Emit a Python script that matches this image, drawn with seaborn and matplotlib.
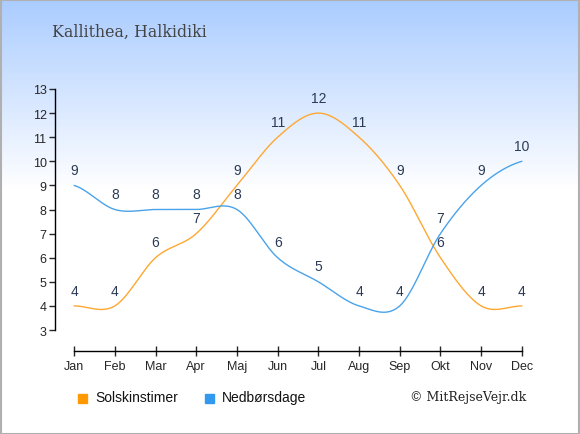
import numpy as np
import pandas as pd
import seaborn as sns
import matplotlib.pyplot as plt

# data
maaneder = ['Jan', 'Feb', 'Mar', 'Apr', 'Maj', 'Jun', 'Jul', 'Aug', 'Sep', 'Okt', 'Nov', 'Dec']
solskinstimer = [4, 4, 6, 7, 9, 11, 12, 11, 9, 6, 4, 4]
nedboersdage = [9, 8, 8, 8, 8, 6, 5, 4, 4, 7, 9, 10]

farve_sol = '#ffa733'
farve_regn = '#4aa3ea'
tekst_farve = '#2b3a55'


def glat(y, n=30):
    # catmull-rom kurve gennem punkterne
    y = np.asarray(y, dtype=float)
    p = np.concatenate([[y[0]], y, [y[-1]]])
    xs, ys = [], []
    for i in range(len(y) - 1):
        p0, p1, p2, p3 = p[i], p[i + 1], p[i + 2], p[i + 3]
        t = np.linspace(0, 1, n, endpoint=False)
        m1 = (p2 - p0) / 2
        m2 = (p3 - p1) / 2
        h = (2 * t**3 - 3 * t**2 + 1) * p1 + (t**3 - 2 * t**2 + t) * m1 \
            + (-2 * t**3 + 3 * t**2) * p2 + (t**3 - t**2) * m2
        xs.extend(i + t)
        ys.extend(h)
    xs.append(len(y) - 1)
    ys.append(y[-1])
    return np.array(xs), np.array(ys)


sns.set_style("white")
plt.rcParams['font.family'] = ['Liberation Sans', 'DejaVu Sans']

fig = plt.figure(figsize=(5.8, 4.35), dpi=100)

# baggrund med gradient
bg = fig.add_axes([0, 0, 1, 1], zorder=-10)
hoejde = 435
g = np.ones((hoejde, 1, 3))
top = np.array([170, 204, 255]) / 255.0
for r in range(hoejde):
    f = min(r / 190.0, 1.0)
    g[r, 0, :] = top * (1 - f) + np.array([1, 1, 1]) * f
bg.imshow(g, aspect='auto', extent=[0, 1, 0, 1])
bg.set_axis_off()
ramme = plt.Rectangle((0.001, 0.001), 0.998, 0.997, transform=fig.transFigure,
                      fill=False, edgecolor='#b0b0b0', lw=1.5)
fig.patches.append(ramme)

ax = fig.add_axes([55 / 580, 1 - 331 / 435, (530 - 55) / 580, (331 - 90) / 435])
ax.patch.set_alpha(0)

xs, ys = glat(solskinstimer)
sns.lineplot(x=xs, y=ys, ax=ax, color=farve_sol, lw=1, sort=False)
xr, yr = glat(nedboersdage)
sns.lineplot(x=xr, y=yr, ax=ax, color=farve_regn, lw=1, sort=False)

for i, v in enumerate(solskinstimer):
    ax.annotate(str(v), (i, v), xytext=(0, 6), textcoords='offset points',
                ha='center', va='bottom', fontsize=10, color=tekst_farve)
for i, v in enumerate(nedboersdage):
    ax.annotate(str(v), (i, v), xytext=(0, 6), textcoords='offset points',
                ha='center', va='bottom', fontsize=10, color=tekst_farve)

ax.set_xlim(-0.47, 11.2)
ax.set_ylim(3, 13)
ax.set_yticks(range(3, 14))
ax.set_xticks(range(12))
ax.set_xticklabels(maaneder)
for s in ['top', 'right']:
    ax.spines[s].set_visible(False)
ax.spines['bottom'].set_position(('outward', 15))
ax.spines['bottom'].set_bounds(0, 11)
ax.spines['left'].set_bounds(3, 13)
for s in ['bottom', 'left']:
    ax.spines[s].set_color('black')
    ax.spines[s].set_linewidth(1)
ax.tick_params(axis='y', direction='out', length=4, width=1, labelsize=9, pad=2, left=True)
ax.tick_params(axis='x', direction='inout', length=7, width=1, labelsize=9, pad=3, bottom=True)

fig.text(52 / 580, 1 - 32 / 435, 'Kallithea, Halkidiki', family='DejaVu Serif',
         fontsize=11.4, color='#444444', va='center')

# forklaring
fig.patches.append(plt.Rectangle((78 / 580, 1 - 404 / 435), 9 / 580, 9 / 435,
                                 transform=fig.transFigure, color='#ff9900'))
fig.text(95 / 580, 1 - 398 / 435, 'Solskinstimer', fontsize=10, va='center', color='#111111')
fig.patches.append(plt.Rectangle((205 / 580, 1 - 404 / 435), 9 / 580, 9 / 435,
                                 transform=fig.transFigure, color='#3399ee'))
fig.text(222 / 580, 1 - 398 / 435, 'Nedbørsdage', fontsize=10, va='center', color='#111111')
fig.text(526 / 580, 1 - 398 / 435, '© MitRejseVejr.dk', family='DejaVu Serif',
         fontsize=9, ha='right', va='center', color='#222222')

fig.savefig('out.png', dpi=100)
